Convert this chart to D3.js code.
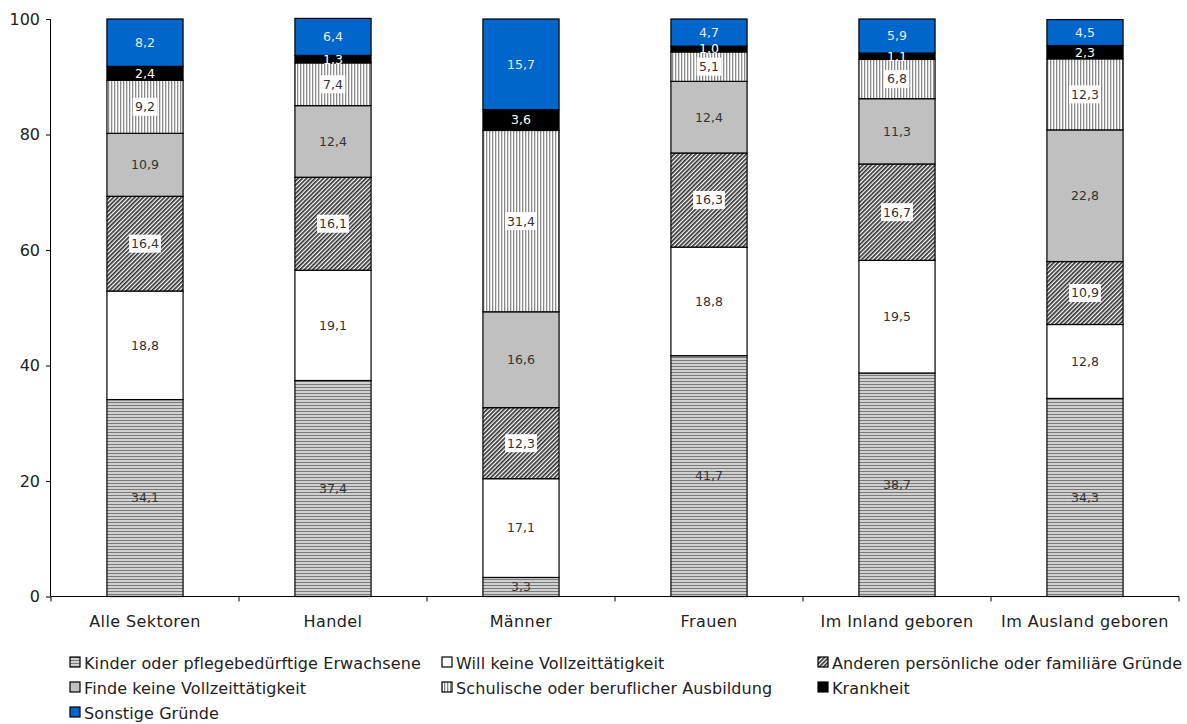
<!DOCTYPE html>
<html><head><meta charset="utf-8">
<script src="https://cdn.jsdelivr.net/npm/d3@7/dist/d3.min.js"></script>
<style>body{margin:0;background:#fff}svg{display:block}</style>
</head><body><svg id="c" width="1187" height="724"></svg>
<script>
const categories = ["Alle Sektoren","Handel","Männer","Frauen","Im Inland geboren","Im Ausland geboren"];
const seriesNames = ["Kinder oder pflegebedürftige Erwachsene","Will keine Vollzeittätigkeit","Anderen persönliche oder familiäre Gründe","Finde keine Vollzeittätigkeit","Schulische oder beruflicher Ausbildung","Krankheit","Sonstige Gründe"];
const kinder     = [34.1, 37.4, 3.3, 41.7, 38.7, 34.3];
const willKeine  = [18.8, 19.1, 17.1, 18.8, 19.5, 12.8];
const anderen    = [16.4, 16.1, 12.3, 16.3, 16.7, 10.9];
const findeKeine = [10.9, 12.4, 16.6, 12.4, 11.3, 22.8];
const schulische = [9.2, 7.4, 31.4, 5.1, 6.8, 12.3];
const krankheit  = [2.4, 1.3, 3.6, 1.0, 1.1, 2.3];
const sonstige   = [8.2, 6.4, 15.7, 4.7, 5.9, 4.5];
const yTicks = [0,20,40,60,80,100];

const seriesVals = [kinder, willKeine, anderen, findeKeine, schulische, krankheit, sonstige];
const fills = ["url(#pH)","#ffffff","url(#pD)","#c0c0c0","url(#pV)","#000000","#0066cc"];
const labelColor = ["#333","#333","#333","#333","#333","#fff","#e6ecf5"];
const labelBg = [false,false,true,false,true,false,false];
const FONT = "DejaVu Sans, sans-serif";

const svg = d3.select("#c");
const defs = svg.append("defs");
let p = defs.append("pattern").attr("id","pH").attr("patternUnits","userSpaceOnUse").attr("width",4).attr("height",3);
p.append("rect").attr("width",4).attr("height",3).attr("fill","#d0d0d0");
p.append("rect").attr("y",0).attr("width",4).attr("height",1).attr("fill","#7a7a7a");
p = defs.append("pattern").attr("id","pV").attr("patternUnits","userSpaceOnUse").attr("width",3).attr("height",4);
p.append("rect").attr("width",3).attr("height",4).attr("fill","#ffffff");
p.append("rect").attr("x",0).attr("width",1.3).attr("height",4).attr("fill","#8a8a8a");
p = defs.append("pattern").attr("id","pD").attr("patternUnits","userSpaceOnUse").attr("width",3).attr("height",3).attr("patternTransform","rotate(45)");
p.append("rect").attr("width",3).attr("height",3).attr("fill","#ffffff");
p.append("rect").attr("width",1.7).attr("height",3).attr("fill","#333333");

const x0 = 51, x1 = 1179, yTop = 19, yBot = 596.5;
const x = d3.scaleBand().domain(categories).range([x0,x1]).paddingInner(0).paddingOuter(0);
const y = d3.scaleLinear().domain([0,100]).range([yBot,yTop]);
const barW = x.bandwidth()*0.405;

const rows = categories.map((c,i)=>{const o={cat:c}; seriesNames.forEach((s,j)=>o[s]=seriesVals[j][i]); return o;});
const stack = d3.stack().keys(seriesNames)(rows);

const g = svg.append("g");
stack.forEach((layer,j)=>{
  g.selectAll(null).data(layer).enter().append("rect")
    .attr("x",d=>x(d.data.cat)+x.bandwidth()/2-barW/2)
    .attr("y",d=>y(d[1]))
    .attr("width",barW)
    .attr("height",d=>y(d[0])-y(d[1]))
    .attr("fill",fills[j])
    .attr("stroke","#000").attr("stroke-width",1.2);
});
const fmt = v => v.toFixed(1).replace(".",",");
stack.forEach((layer,j)=>{
  layer.forEach(d=>{
    const cx = x(d.data.cat)+x.bandwidth()/2;
    const cy = (y(d[0])+y(d[1]))/2;
    const t = fmt(d[1]-d[0]);
    if (labelBg[j]) {
      const w = t.length*7.2+3;
      g.append("rect").attr("x",cx-w/2).attr("y",cy-9).attr("width",w).attr("height",18).attr("fill","#fff");
    }
    g.append("text").attr("x",cx).attr("y",cy).attr("dy","0.35em")
      .attr("text-anchor","middle").attr("font-family",FONT)
      .attr("font-size",12.5).attr("fill",labelColor[j]).text(t);
  });
});

const ya = svg.append("g").attr("transform",`translate(${x0},0)`)
  .call(d3.axisLeft(y).tickValues(yTicks).tickSize(5).tickPadding(6));
ya.select(".domain").attr("stroke","#000").attr("d",`M-0.5,${yTop}V${yBot}`);
ya.selectAll("line").attr("stroke","#000");
ya.selectAll("text").attr("font-family",FONT).attr("font-size",16).attr("fill","#222");

const xa = svg.append("g").attr("transform",`translate(0,${yBot})`);
xa.append("line").attr("x1",x0).attr("x2",x1).attr("y1",0).attr("y2",0).attr("stroke","#000");
const bounds = categories.map(c=>x(c)).concat([x1]);
xa.selectAll(null).data(bounds).enter().append("line")
  .attr("x1",d=>d).attr("x2",d=>d).attr("y1",0).attr("y2",5).attr("stroke","#000");
xa.selectAll(null).data(categories).enter().append("text")
  .attr("x",d=>x(d)+x.bandwidth()/2).attr("y",30)
  .attr("text-anchor","middle").attr("font-family",FONT)
  .attr("font-size",16).attr("letter-spacing",0.4).attr("fill","#222").text(d=>d);

const legX = [70, 442, 818];
const leg = svg.append("g");
seriesNames.forEach((s,j)=>{
  const col = j%3, row = Math.floor(j/3);
  const lx = legX[col], ly = 663 + row*25;
  leg.append("rect").attr("x",lx).attr("y",ly-6).attr("width",10).attr("height",10)
    .attr("fill",fills[j]).attr("stroke","#000").attr("stroke-width",1.2);
  leg.append("text").attr("x",lx+14).attr("y",ly).attr("dy","0.35em")
    .attr("font-family",FONT).attr("font-size",16).attr("letter-spacing",0.1).attr("fill","#222").text(s);
});
</script></body></html>
